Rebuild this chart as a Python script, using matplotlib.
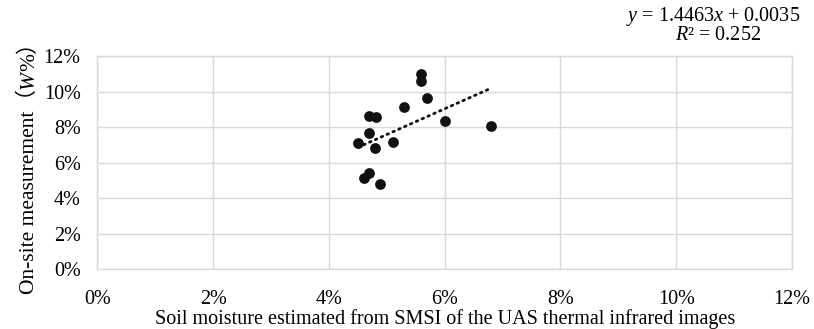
import matplotlib

matplotlib.use("Agg")
import matplotlib.pyplot as plt
from matplotlib.ticker import PercentFormatter

_SERIF_CJK = ["Liberation Serif", "Noto Sans CJK SC"]
plt.rcParams["font.family"] = _SERIF_CJK
plt.rcParams["mathtext.fontset"] = "custom"
plt.rcParams["mathtext.rm"] = "Liberation Serif"
plt.rcParams["mathtext.it"] = "Liberation Serif:italic"

# 估算土壤含水量（SMSI） vs 实测值
smsi_est = [0.0560, 0.0560, 0.0569, 0.0530, 0.0470, 0.0481, 0.0600, 0.0680,
            0.0470, 0.0450, 0.0510, 0.0480, 0.0470, 0.0461, 0.0489]
measured = [0.1097, 0.1061, 0.0962, 0.0915, 0.0862, 0.0855, 0.0836, 0.0808,
            0.0765, 0.0709, 0.0718, 0.0681, 0.0540, 0.0512, 0.0482]

slope, intercept = 1.4463, 0.0035
r2 = 0.252

x_ticks = [0, 0.02, 0.04, 0.06, 0.08, 0.10, 0.12]
y_ticks = [0, 0.02, 0.04, 0.06, 0.08, 0.10, 0.12]

_GRID = "#d9d9d9"
_FS = 14.5

fig = plt.figure(figsize=(8.14, 3.29), dpi=100)
ax = fig.add_axes([0.1195, 0.181, 0.8535, 0.649])

ax.scatter(smsi_est, measured, s=60, color="#111111", zorder=3, lw=0)

x0, x1 = min(smsi_est), max(smsi_est)
ax.plot([x0, x1], [slope * x0 + intercept, slope * x1 + intercept],
        color="#111111", lw=2.0, ls=(0, (0.6, 1.7)), dash_capstyle="round", zorder=4)

ax.set_xlim(0, 0.12)
ax.set_ylim(0, 0.12)
ax.set_xticks(x_ticks)
ax.set_yticks(y_ticks)
ax.xaxis.set_major_formatter(PercentFormatter(xmax=1.0, decimals=0))
ax.yaxis.set_major_formatter(PercentFormatter(xmax=1.0, decimals=0))
ax.tick_params(length=0, labelsize=_FS)
ax.tick_params(axis="y", pad=12)
ax.tick_params(axis="x", pad=15)
ax.grid(True, color=_GRID, lw=1.0)
ax.set_axisbelow(True)
for sp in ax.spines.values():
    sp.set_color(_GRID)
    sp.set_linewidth(1.0)

ax.set_xlabel("Soil moisture estimated from SMSI of the UAS thermal infrared images",
              fontsize=_FS, labelpad=0)

# y 轴标题：全角括号 + 斜体 W，分三段拼接（竖排，从下往上），同段内字体回退保持基线一致
pieces = [
    ("On-site measurement（", {"family": _SERIF_CJK}),
    ("W", {"family": "Liberation Serif", "style": "italic"}),
    ("%）", {"family": _SERIF_CJK}),
]
renderer = fig.canvas.get_renderer()
texts, offsets, total = [], [], 0.0
for s, kw in pieces:
    t = fig.text(0, 0, s, transform=None, rotation=90, rotation_mode="anchor",
                 ha="left", va="baseline", fontsize=15.5, **kw)
    h = t.get_window_extent(renderer).height
    texts.append(t)
    offsets.append(total)
    total += h
base_x, center_y = 34, 329 - 163
for t, off in zip(texts, offsets):
    t.set_position((base_x, center_y - total / 2 + off))

fig.text(713, 329 - 16, "$y$ = 1.4463$x$ + 0.0035", transform=None,
         ha="center", va="center", fontsize=_FS)
fig.text(718, 329 - 36, "$R$² = 0.252", transform=None,
         ha="center", va="center", fontsize=_FS)

fig.savefig("out.png", dpi=100)
plt.close(fig)
